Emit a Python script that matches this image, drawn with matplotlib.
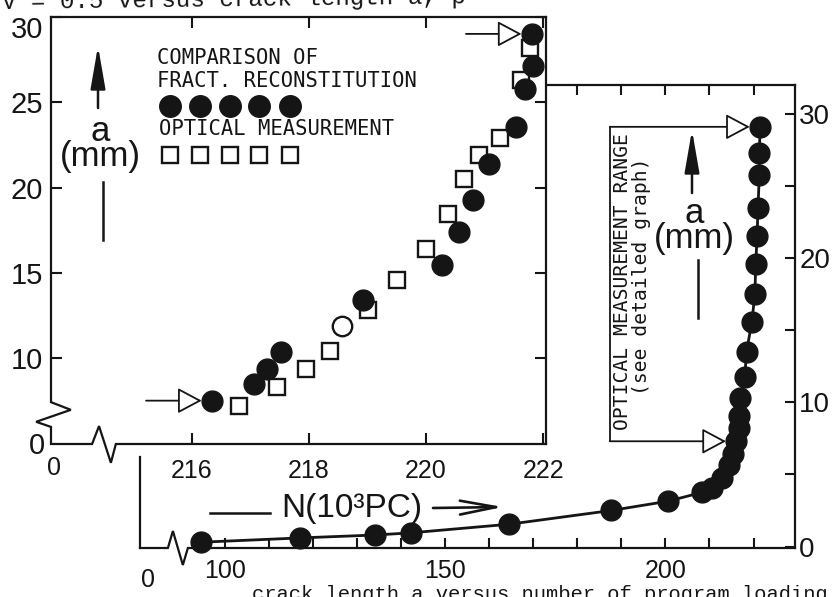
import matplotlib
matplotlib.use("Agg")
import matplotlib.pyplot as plt
from matplotlib.lines import Line2D
from matplotlib.patches import FancyArrowPatch

W, H = 837, 597
INK = "#151515"
SANS = ["Liberation Sans", "DejaVu Sans"]
MONO = ["DejaVu Sans Mono"]
TYPEWRITER = ["Liberation Mono", "DejaVu Sans Mono"]

# Whole test: crack length a (mm) against load cycles N (10^3 PC)
n_full = [94.6, 117.2, 134.1, 142.2, 164.6, 187.7, 200.7, 208.2, 210.5, 212.8,
          214.5, 215.3, 216.1, 216.6, 216.7, 216.9, 218.0, 218.4, 219.6, 220.3,
          220.5, 220.8, 221.0, 221.3, 221.3, 221.5]
a_full = [0.3, 0.6, 0.8, 0.95, 1.55, 2.5, 3.15, 3.75, 4.05, 4.75,
          5.65, 6.45, 7.3, 8.2, 9.05, 10.3, 11.75, 13.5, 15.55, 17.5,
          19.6, 21.55, 23.45, 25.75, 27.3, 29.1]

# Detail of the last cycles: fracture reconstitution vs optical measurement
n_fract = [216.35, 217.06, 217.28, 217.53, 218.92, 220.27, 220.57, 220.81,
           221.07, 221.53, 221.69, 221.82, 221.81]
a_fract = [7.52, 8.49, 9.35, 10.37, 13.43, 15.44, 17.40, 19.30,
           21.37, 23.54, 25.81, 27.13, 29.01]
n_optic = [216.81, 217.46, 217.96, 218.37, 219.01, 219.51, 220.01, 220.37,
           220.65, 220.91, 221.26, 221.62, 221.78]
a_optic = [7.18, 8.33, 9.39, 10.45, 12.84, 14.59, 16.41, 18.47,
           20.48, 21.92, 22.93, 26.28, 28.19]
n_open = [218.57]
a_open = [11.89]

range_n = 187.4          # N of the optical measurement range bracket
range_lo, range_hi = 12, 25   # indices of the bracketed points in the full record

main_xlim = (80.8, 229.4)
main_ylim = (-0.1, 32.0)
main_xticks = list(range(100, 221, 10))
main_xlabeled = [100, 150, 200]
main_yticks = list(range(0, 31, 5))
main_ylabeled = [0, 10, 20, 30]

det_xlim = (213.6, 222.05)
det_ylim = (4.98, 30.0)
det_xticks = [216, 218, 220, 222]
det_yticks = [10, 15, 20, 25, 30]

top_caption = "V = 0.5 versus crack length a, p"
bottom_caption = "crack length a versus number of program loading"

ON_TOP = 10


def fx(x):
    return x / W


def fy(y):
    return 1 - y / H


def box(l, t, r, b):
    return [fx(l), fy(b), (r - l) / W, (b - t) / H]


fig = plt.figure(figsize=(W / 100, H / 100), dpi=100)
fig.patch.set_facecolor("white")

# ---------------- main graph ----------------
ax = fig.add_axes(box(140, 85, 795, 548), zorder=1)
ax.set_facecolor("none")
ax.set_xlim(*main_xlim)
ax.set_ylim(*main_ylim)
for s in ax.spines.values():
    s.set_linewidth(1.6)
    s.set_color(INK)
ax.spines["bottom"].set_visible(False)
ax.spines["top"].set_bounds(172.6, main_xlim[1])
ax.spines["left"].set_bounds(main_ylim[0], 6.2)

ax.set_xticks(main_xticks, [str(t) if t in main_xlabeled else "" for t in main_xticks])
ax.set_yticks(main_yticks, [str(t) if t in main_ylabeled else "" for t in main_yticks])
ax.yaxis.tick_right()
ax.tick_params(axis="both", direction="in", length=7, width=1.5, color=INK, labelcolor=INK)
ax.tick_params(axis="x", top=True, bottom=True, labelsize=18, pad=8)
ax.tick_params(axis="y", left=False, right=True, labelleft=False, labelright=True,
               labelsize=20, pad=3)
for lab in ax.get_xticklabels() + ax.get_yticklabels():
    lab.set_family(SANS)

# broken bottom axis
bx = [0, 0.0426, 0.0502, 0.0654, 0.0731, 1]
by = [0, 0, 0.0367, -0.0367, 0, 0]
ax.add_line(Line2D(bx, by, transform=ax.transAxes, color=INK, lw=1.6,
                   clip_on=False, solid_joinstyle="miter"))
ax.annotate("0", xy=(0, 0), xycoords="axes fraction", xytext=(8, -32),
            textcoords="offset pixels", ha="center", va="center",
            fontsize=18, family=SANS, color=INK)

ax.plot(n_full, a_full, "-", color=INK, lw=2.0, zorder=3, clip_on=False)
ax.plot(n_full, a_full, "o", ms=15, color=INK, zorder=4, clip_on=False)

# optical measurement range bracket
ax.plot([range_n, range_n], [a_full[range_lo], a_full[range_hi]], color=INK, lw=1.3)
for i in (range_lo, range_hi):
    ax.annotate("", xy=(n_full[i], a_full[i]), xytext=(range_n, a_full[i]),
                arrowprops=dict(arrowstyle="-|>,head_length=0.75,head_width=0.4",
                                mutation_scale=20, fc="white", ec=INK, lw=1.3,
                                shrinkA=0, shrinkB=7.5), zorder=5)

# ---------------- detail graph ----------------
ins = fig.add_axes(box(51, 17, 546, 444), zorder=2)
ins.set_facecolor("white")
ins.set_xlim(*det_xlim)
ins.set_ylim(*det_ylim)
for s in ins.spines.values():
    s.set_linewidth(1.6)
    s.set_color(INK)
ins.spines["left"].set_visible(False)
ins.spines["bottom"].set_visible(False)
ins.set_xticks(det_xticks, [str(t) for t in det_xticks])
# the top value is written a little lower, clear of the caption line
ins.set_yticks(det_yticks, [str(t) if t != det_yticks[-1] else "" for t in det_yticks])
ins.tick_params(axis="both", direction="in", length=8, width=1.5, color=INK,
                labelcolor=INK, top=True, right=True)
ins.tick_params(axis="x", labelsize=18, pad=11)
ins.tick_params(axis="y", labelsize=21, pad=6)
for lab in ins.get_xticklabels() + ins.get_yticklabels():
    lab.set_family(SANS)
ins.annotate(str(det_yticks[-1]), xy=(0, det_yticks[-1]),
             xycoords=("axes fraction", "data"), xytext=(-8, -13),
             textcoords="offset pixels", ha="right", va="center",
             fontsize=21, family=SANS, color=INK)

# broken left and bottom axes
lx = [0, 0, 0.040, -0.030, 0, 0, 0.083, 0.097, 0.121, 0.131, 1]
ly = [1, 0.098, 0.080, 0.052, 0.040, 0, 0, 0.042, -0.044, 0, 0]
ins.add_line(Line2D(lx, ly, transform=ins.transAxes, color=INK, lw=1.6,
                    clip_on=False, solid_joinstyle="miter"))
ins.annotate("0", xy=(0, 0), xycoords="axes fraction", xytext=(-14, -2),
             textcoords="offset pixels", ha="center", va="center",
             fontsize=21, family=SANS, color=INK)
ins.annotate("0", xy=(0, 0), xycoords="axes fraction", xytext=(3, -24),
             textcoords="offset pixels", ha="center", va="center",
             fontsize=18, family=SANS, color=INK)

ins.plot(n_optic, a_optic, "s", ms=12, mfc="white", mec=INK, mew=1.7, zorder=3,
         clip_on=False)
ins.plot(n_open, a_open, "o", ms=14, mfc="white", mec=INK, mew=1.7, zorder=3,
         clip_on=False)
ins.plot(n_fract, a_fract, "o", ms=15, color=INK, zorder=4, clip_on=False)

for i in (0, -1):
    ins.annotate("", xy=(n_fract[i], a_fract[i]), xytext=(-66, 0),
                 textcoords="offset pixels",
                 arrowprops=dict(arrowstyle="-|>,head_length=0.75,head_width=0.4",
                                 mutation_scale=20, fc="white", ec=INK, lw=1.3,
                                 shrinkA=0, shrinkB=7.5), zorder=5)

# legend of the detail graph
fig.text(fx(157), fy(58), "COMPARISON OF", family=MONO, fontsize=14.8,
         ha="left", va="center", color=INK)
fig.text(fx(157), fy(81), "FRACT. RECONSTITUTION", family=MONO, fontsize=14.8,
         ha="left", va="center", color=INK)
fig.text(fx(159), fy(129), "OPTICAL MEASUREMENT", family=MONO, fontsize=14.8,
         ha="left", va="center", color=INK)
key_x = [170, 200, 230, 259, 290]
fig.add_artist(Line2D([fx(x) for x in key_x], [fy(106)] * 5, transform=fig.transFigure,
                      ls="none", marker="o", ms=15.5, color=INK, zorder=ON_TOP))
fig.add_artist(Line2D([fx(x) for x in key_x], [fy(155)] * 5, transform=fig.transFigure,
                      ls="none", marker="s", ms=11.5, mfc="white", mec=INK, mew=1.7,
                      zorder=ON_TOP))


# axis titles with arrows
def up_arrow(x, y_tail, y_tip):
    fig.add_artist(FancyArrowPatch((fx(x), fy(y_tail)), (fx(x), fy(y_tip)),
                                   transform=fig.transFigure,
                                   arrowstyle="-|>,head_length=2.6,head_width=0.45",
                                   mutation_scale=10, color=INK, lw=1.8,
                                   shrinkA=0, shrinkB=0, zorder=ON_TOP))


def plain_line(x0, y0, x1, y1, lw=1.8):
    fig.add_artist(Line2D([fx(x0), fx(x1)], [fy(y0), fy(y1)],
                          transform=fig.transFigure, color=INK, lw=lw, zorder=ON_TOP))


def length_label(x, y):
    fig.text(fx(x), fy(y), "a\n(mm)", family=SANS, fontsize=25, ha="center",
             va="center", multialignment="center", linespacing=0.72, color=INK)


# detail graph: a (mm)
up_arrow(98, 108, 46)
length_label(100, 144)
plain_line(103, 182, 103, 240)

# main graph: a (mm)
up_arrow(692, 193, 130)
length_label(694, 226)
plain_line(698, 260, 698, 318)

# N label
fig.text(fx(352), fy(508), "N(10³PC)", family=SANS, fontsize=24, ha="center",
         va="center", color=INK)
plain_line(210, 513, 270, 513)
fig.add_artist(FancyArrowPatch((fx(433), fy(508)), (fx(503), fy(507)),
                               transform=fig.transFigure,
                               arrowstyle="->,head_length=1.3,head_width=0.25",
                               mutation_scale=20, color=INK, lw=1.9,
                               shrinkA=0, shrinkB=0, zorder=ON_TOP))

# optical range text
fig.text(fx(613), fy(282), "OPTICAL MEASUREMENT RANGE", family=MONO, fontsize=14.1,
         rotation=90, ha="left", va="center", color=INK)
fig.text(fx(632), fy(276), "(see detailed graph)", family=MONO, fontsize=14.1,
         rotation=90, ha="left", va="center", color=INK)

# caption lines running off the page edges
fig.text(fx(2), fy(9), top_caption, family=TYPEWRITER, fontsize=17.4, ha="left",
         va="baseline", rotation=0.7, rotation_mode="anchor", color=INK)
fig.text(fx(252), fy(600), bottom_caption, family=TYPEWRITER, fontsize=14.8, ha="left",
         va="baseline", color=INK)

fig.savefig("out.png", dpi=100, facecolor="white")
